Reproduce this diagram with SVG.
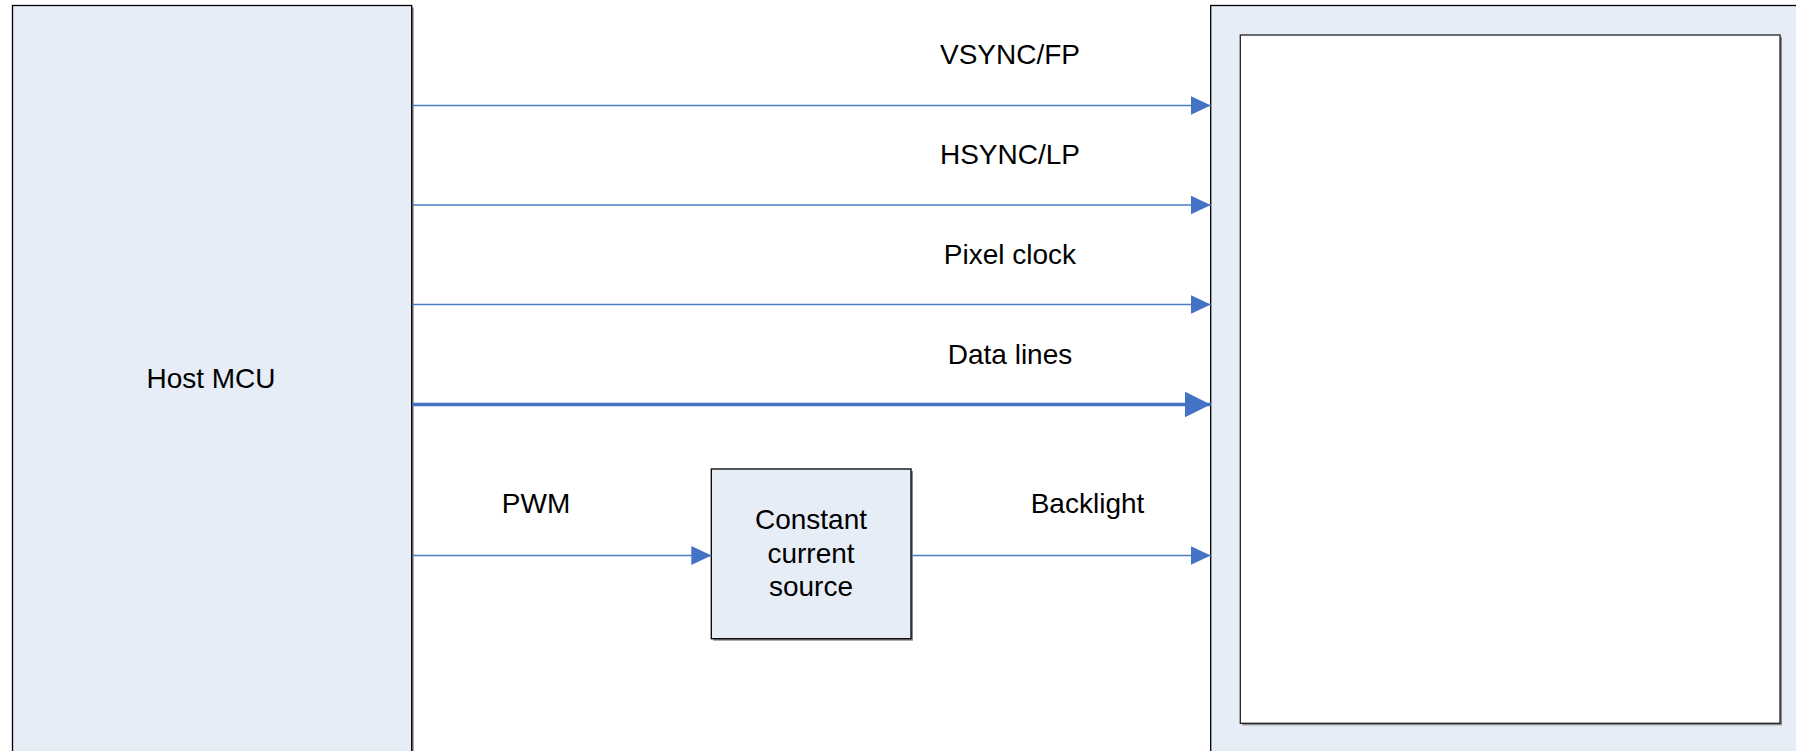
<svg xmlns="http://www.w3.org/2000/svg" width="1796" height="751" viewBox="0 0 1796 751">
<style>
.box{fill:#E6EDF7;stroke:#000;stroke-width:1.3}
.shadow{fill:#8A8A8A;stroke:none}
.inner{fill:#FFFFFF;stroke:#222;stroke-width:1.3}
.thin{stroke:#4A7EC4;stroke-width:1.4;fill:none}
.thick{stroke:#4472C4;stroke-width:3.5;fill:none}
text{font-family:"Liberation Sans",Arial,sans-serif;font-size:28px;fill:#000;text-anchor:middle}
</style>
<defs>
<marker id="ah" markerUnits="userSpaceOnUse" markerWidth="20" markerHeight="20" viewBox="0 0 19 18" refX="19" refY="9" orient="auto">
<path d="M0,0 L19,9 L0,18 Z" fill="#4472C4"/>
</marker>
<marker id="ahb" markerUnits="userSpaceOnUse" markerWidth="26" markerHeight="26" viewBox="0 0 25 25" refX="25" refY="12.5" orient="auto">
<path d="M0,0 L25,12.5 L0,25 Z" fill="#4472C4"/>
</marker>
</defs>
<rect width="1796" height="751" fill="#FFFFFF"/>
<g id="host-mcu">
<rect class="shadow" x="14.5" y="7.5" width="399.2" height="760"/>
<rect class="box" x="12.5" y="5.5" width="399.2" height="760"/>
<text x="211" y="388">Host MCU</text>
</g>
<g id="display">
<rect class="box" x="1210.7" y="5.5" width="600" height="760"/>
<rect class="shadow" x="1242.3" y="37" width="539.7" height="688.3"/>
<rect class="inner" x="1240.3" y="35" width="539.7" height="688.3"/>
</g>
<g id="constant-current-source">
<rect class="shadow" x="713.3" y="471" width="199.7" height="169.7"/>
<rect class="box" x="711.3" y="469" width="199.7" height="169.7"/>
<text x="811" y="528.5">Constant</text>
<text x="811" y="562.5">current</text>
<text x="811" y="596">source</text>
</g>
<g id="connectors">
<line class="thin" x1="412.5" y1="105.5" x2="1210.7" y2="105.5" marker-end="url(#ah)"/>
<line class="thin" x1="412.5" y1="205" x2="1210.7" y2="205" marker-end="url(#ah)"/>
<line class="thin" x1="412.5" y1="304.5" x2="1210.7" y2="304.5" marker-end="url(#ah)"/>
<line class="thick" x1="412.5" y1="404.5" x2="1210.7" y2="404.5" marker-end="url(#ahb)"/>
<line class="thin" x1="412.5" y1="555.5" x2="711.3" y2="555.5" marker-end="url(#ah)"/>
<line class="thin" x1="912" y1="555.5" x2="1210.7" y2="555.5" marker-end="url(#ah)"/>
</g>
<g id="labels">
<text x="1010" y="64">VSYNC/FP</text>
<text x="1010" y="164">HSYNC/LP</text>
<text x="1010" y="264">Pixel clock</text>
<text x="1010" y="363.5">Data lines</text>
<text x="536" y="513">PWM</text>
<text x="1087.5" y="513">Backlight</text>
</g>
</svg>
